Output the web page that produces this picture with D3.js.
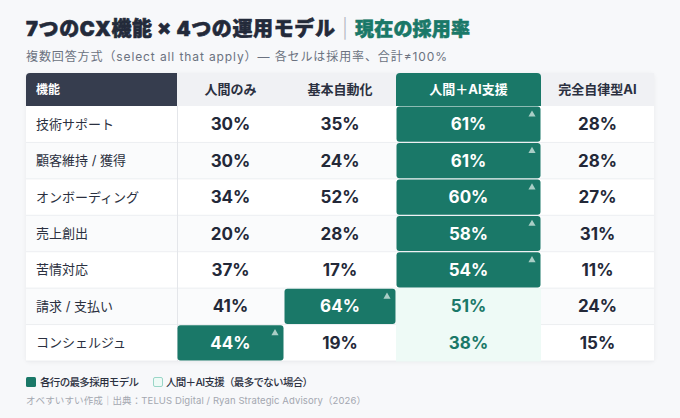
<!DOCTYPE html>
<html><head><meta charset="utf-8">
<script src="https://cdn.jsdelivr.net/npm/d3@7"></script>
<style>
html,body{margin:0;padding:0;background:#f7f8fa;}
svg{display:block;font-family:Inter,"Noto Sans CJK JP","Noto Sans",sans-serif;}
</style></head>
<body><svg id="c" width="680" height="418"></svg>
<script>
const categories = ["技術サポート","顧客維持 / 獲得","オンボーディング","売上創出","苦情対応","請求 / 支払い","コンシェルジュ"];
const models = ["人間のみ","基本自動化","人間＋AI支援","完全自律型AI"];
const humanOnly  = [30,30,34,20,37,41,44];
const basicAuto  = [35,24,52,28,17,64,19];
const humanAI    = [61,61,60,58,54,51,38];
const autonomous = [28,28,27,31,11,24,15];
const series = [humanOnly, basicAuto, humanAI, autonomous];

const svg = d3.select("#c");
const TEAL = "#1a7868", DARK = "#232a3a";

// layout
const tableL = 26, labelR = 177, tableR = 654;
const colW = [107, 112, 145, 113];
const lefts = colW.map((w,i)=> labelR + d3.sum(colW.slice(0,i)));
const x = d3.scaleOrdinal().domain(models).range(lefts);
const w = d3.scaleOrdinal().domain(models).range(colW);
const headTop = 73, headBot = 106;
const y = d3.scaleBand().domain(categories).range([headBot, 361]).paddingInner(0);

// title
svg.append("text").attr("x", 26).attr("y", 36).attr("font-size", 20).attr("font-weight", 900)
  .attr("fill", DARK).attr("stroke", DARK).attr("stroke-width", 0.6)
  .attr("textLength", 309).attr("lengthAdjust", "spacing")
  .text("7つのCX機能 × 4つの運用モデル");
svg.append("text").attr("x", 342).attr("y", 35).attr("font-size", 19).attr("font-weight", 300)
  .attr("fill", "#b5b9c2").text("|");
svg.append("text").attr("x", 355).attr("y", 36).attr("font-size", 19).attr("font-weight", 900)
  .attr("fill", TEAL).attr("stroke", TEAL).attr("stroke-width", 0.6)
  .attr("textLength", 115).attr("lengthAdjust", "spacing").text("現在の採用率");

svg.append("text").attr("x", 26).attr("y", 61).attr("font-size", 12).attr("fill", "#6b7280")
  .attr("textLength", 421).attr("lengthAdjust", "spacing")
  .text("複数回答方式（select all that apply）— 各セルは採用率、合計≠100%");

// table body background
svg.append("rect").attr("x", tableL).attr("y", headTop).attr("width", tableR - tableL).attr("height", 361 - headTop)
  .attr("rx", 4).attr("fill", "#fff").style("filter", "drop-shadow(0 1px 2px rgba(0,0,0,0.06))");

// row backgrounds
svg.selectAll("rect.row").data(categories).join("rect").attr("class","row")
  .attr("x", tableL).attr("y", d=>y(d)).attr("width", tableR - tableL).attr("height", y.bandwidth())
  .attr("fill", (d,i)=> i%2 ? "#fafbfc" : "#ffffff");
svg.selectAll("line.sep").data(categories).join("line").attr("class","sep")
  .attr("x1", tableL).attr("x2", tableR).attr("y1", d=>y(d)+y.bandwidth()).attr("y2", d=>y(d)+y.bandwidth())
  .attr("stroke", "#eceef1").attr("stroke-width", 1);
svg.append("line").attr("x1", labelR+0.5).attr("x2", labelR+0.5).attr("y1", headBot).attr("y2", 361)
  .attr("stroke", "#e4e6ea");

// header
svg.append("rect").attr("x", labelR).attr("y", headTop).attr("width", tableR - labelR).attr("height", headBot-headTop).attr("fill", "#f0f1f4");
const r = 4;
svg.append("path").attr("fill", "#363d4e")
  .attr("d", `M${tableL},${headBot} V${headTop+r} Q${tableL},${headTop} ${tableL+r},${headTop} H${labelR} V${headBot} Z`);
svg.append("text").attr("x", 36).attr("y", (headTop+headBot)/2).attr("dy","0.35em")
  .attr("font-size", 12).attr("font-weight", 700).attr("fill", "#fff").text("機能");
const hl = models[2];
svg.append("path").attr("fill", TEAL)
  .attr("d", `M${x(hl)},${headBot} V${headTop+r} Q${x(hl)},${headTop} ${x(hl)+r},${headTop} H${x(hl)+w(hl)-r} Q${x(hl)+w(hl)},${headTop} ${x(hl)+w(hl)},${headTop+r} V${headBot} Z`);
svg.selectAll("text.head").data(models).join("text").attr("class","head")
  .attr("x", d=>x(d)+w(d)/2).attr("y", (headTop+headBot)/2).attr("dy","0.35em").attr("text-anchor","middle")
  .attr("font-size", 13).attr("font-weight", 700).attr("fill", d=> d===hl ? "#fff" : "#2b3040").text(d=>d);

// labels
svg.selectAll("text.lab").data(categories).join("text").attr("class","lab")
  .attr("x", 36).attr("y", d=>y(d)+y.bandwidth()/2).attr("dy","0.35em")
  .attr("font-size", 13).attr("fill", "#2b3040").text(d=>d);

// cells
const cells = [];
categories.forEach((c,ri)=>{
  const vals = series.map(s=>s[ri]);
  const mx = d3.max(vals);
  models.forEach((m,ci)=>{
    cells.push({c, m, v: vals[ci], top: vals[ci]===mx, light: ci===2 && vals[ci]!==mx});
  });
});
svg.selectAll("rect.light").data(cells.filter(d=>d.light)).join("rect").attr("class","light")
  .attr("x", d=>x(d.m)).attr("y", d=>y(d.c)).attr("width", d=>w(d.m)).attr("height", y.bandwidth()+0.5)
  .attr("fill", "#eefaf6");
svg.selectAll("rect.top").data(cells.filter(d=>d.top)).join("rect").attr("class","top")
  .attr("x", d=>x(d.m)+0.5).attr("y", d=>y(d.c)+0.6).attr("width", d=>w(d.m)-1).attr("height", y.bandwidth()-1.2)
  .attr("rx", 3).attr("fill", TEAL);
svg.selectAll("path.tri").data(cells.filter(d=>d.top)).join("path").attr("class","tri")
  .attr("d", d3.symbol(d3.symbolTriangle, 22))
  .attr("transform", d=>`translate(${x(d.m)+w(d.m)-9},${y(d.c)+8.5})`)
  .attr("fill", "#a9cec6");
svg.selectAll("text.val").data(cells).join("text").attr("class","val")
  .attr("x", d=>x(d.m)+w(d.m)/2).attr("y", d=>y(d.c)+y.bandwidth()/2).attr("dy","0.36em")
  .attr("text-anchor","middle").attr("font-size", 17).attr("font-weight", 700)
  .attr("fill", d=> d.top ? "#fff" : d.light ? TEAL : "#232838")
  .text(d=>d.v + "%");

// legend
const ly = 382;
svg.append("rect").attr("x", 26).attr("y", ly-5).attr("width", 10).attr("height", 10).attr("rx", 1.5).attr("fill", TEAL);
svg.append("text").attr("x", 40).attr("y", ly).attr("dy","0.35em").attr("font-size", 10.5).attr("font-weight", 500)
  .attr("fill", "#2b3040").attr("textLength", 99).attr("lengthAdjust", "spacing").text("各行の最多採用モデル");
svg.append("rect").attr("x", 153.5).attr("y", ly-4.5).attr("width", 9).attr("height", 9).attr("rx", 1.5)
  .attr("fill", "#eefaf6").attr("stroke", "#9ad6c8");
svg.append("text").attr("x", 166).attr("y", ly).attr("dy","0.35em").attr("font-size", 10.5).attr("font-weight", 500)
  .attr("fill", "#2b3040").attr("textLength", 147).attr("lengthAdjust", "spacing").text("人間＋AI支援（最多でない場合）");

svg.append("text").attr("x", 26).attr("y", 401).attr("dy","0.35em").attr("font-size", 9.5)
  .attr("fill", "#a3a7b0").attr("textLength", 340).attr("lengthAdjust", "spacing")
  .text("オベすいすい作成｜出典：TELUS Digital / Ryan Strategic Advisory（2026）");
</script></body></html>
